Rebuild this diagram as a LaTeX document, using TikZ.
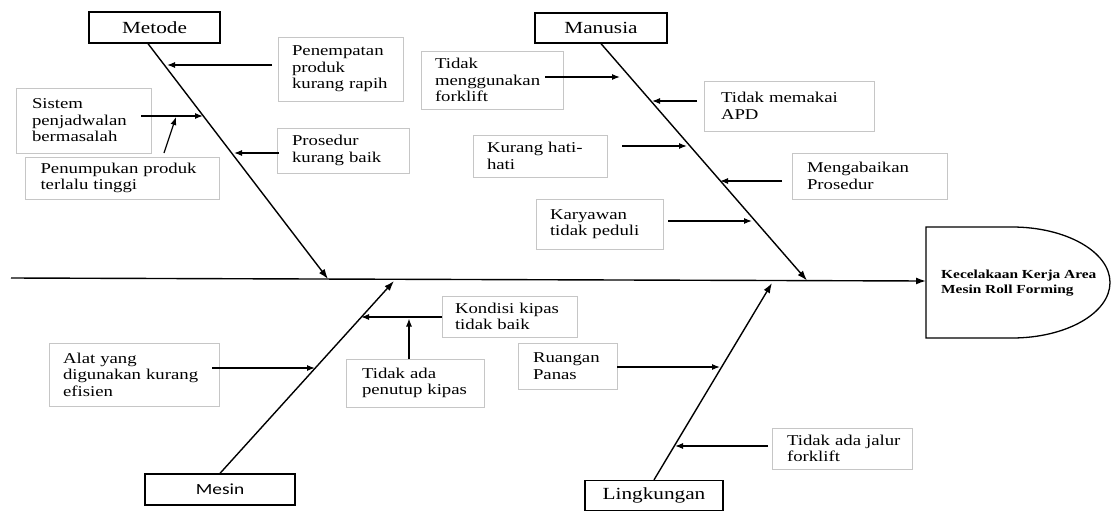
\documentclass[tikz,border=0pt]{standalone}
\usepackage{fontspec}
\setmainfont{Liberation Serif}[FakeStretch=1.25]
\newfontfamily\mesinfont{Carlito}[FakeStretch=1.25]
\usetikzlibrary{arrows.meta}
\begin{document}
\begin{tikzpicture}[x=1pt,y=-1pt,
  catbox/.style={draw=black,line width=1.3pt,inner sep=0pt,font=\fontsize{17}{20}\selectfont},
  causebox/.style={draw=gray!45,line width=0.9pt,inner ysep=0pt,align=left,font=\fontsize{15}{16.5}\selectfont},
  bone/.style={line width=1.4pt,-{Latex[length=10pt,width=7pt]}},
  cause/.style={line width=1.2pt,-{Latex[length=8pt,width=6pt]}},
  effectshape/.style={draw=black,line width=1.3pt},
]
\useasboundingbox (0,0) rectangle (1113,512);

% category boxes
\node[catbox,minimum width=131pt,minimum height=31pt] (metode) at (154.5,27.5) {Metode};
\node[catbox,minimum width=132pt,minimum height=30pt] (manusia) at (601,28) {Manusia};
\node[catbox,minimum width=150pt,minimum height=31pt,font=\mesinfont\fontsize{15.5}{18}\selectfont] (mesin) at (220,489.5) {Mesin};
\node[catbox,minimum width=138pt,minimum height=30pt] (lingkungan) at (654,495.5) {Lingkungan};

% effect
\draw[effectshape] (926,227) -- (1012,227) arc[start angle=-90,end angle=90,x radius=98,y radius=55.5] -- (926,338) -- cycle;
\coordinate (effW) at (926,281);
\node[anchor=west,align=left,inner sep=0pt,font=\bfseries\fontsize{12.3}{14.3}\selectfont] (effect) at (941,283) {Kecelakaan Kerja Area\\Mesin Roll Forming};

% spine
\coordinate (spineL) at (11,278);
\draw[bone] (spineL) -- (effW);

% bone tips
\coordinate (tipM) at (328,279);
\coordinate (tipH) at (807,280.5);
\coordinate (tipS) at (394,281);
\coordinate (tipL) at (772,283);
\draw[bone] ([xshift=-6.5pt]metode.south) -- (tipM);
\draw[bone] (manusia.south) -- (tipH);
\draw[bone] (mesin.north) -- (tipS);
\draw[bone] (lingkungan.north) -- (tipL);

% cause boxes
\node[causebox,minimum width=125pt,minimum height=64pt,inner xsep=14pt,text width=97pt] (A1) at (340.5,69) {Penempatan\\produk\\kurang~rapih};
\node[causebox,minimum width=135pt,minimum height=65pt,inner xsep=16pt,text width=103pt] (A2) at (83.5,120.5) {Sistem\\penjadwalan\\bermasalah};
\node[causebox,minimum width=194pt,minimum height=42pt,inner xsep=15.5pt,text width=163pt] (A3) at (122,178) {Penumpukan~produk\\terlalu~tinggi};
\node[causebox,minimum width=132pt,minimum height=45pt,inner xsep=15pt,text width=102pt] (A4) at (343,150.5) {Prosedur\\kurang~baik};

\node[causebox,minimum width=142pt,minimum height=58pt,inner xsep=14pt,text width=114pt] (B1) at (492,80) {Tidak\\menggunakan\\forklift};
\node[causebox,minimum width=170pt,minimum height=50pt,inner xsep=17pt,text width=136pt] (B2) at (789,106) {Tidak~memakai\\APD};
\node[causebox,minimum width=134pt,minimum height=42pt,inner xsep=14pt,text width=106pt] (B3) at (540,156) {Kurang~hati-\\hati};
\node[causebox,minimum width=155pt,minimum height=46pt,inner xsep=15pt,text width=125pt] (B4) at (869.5,176) {Mengabaikan\\Prosedur};
\node[causebox,minimum width=127pt,minimum height=50pt,inner xsep=14pt,text width=99pt] (B5) at (599.5,224) {Karyawan\\tidak~peduli};

\node[causebox,minimum width=170pt,minimum height=63pt,inner xsep=14pt,text width=142pt] (C1) at (134,374.5) {Alat~yang\\digunakan~kurang\\efisien};
\node[causebox,minimum width=135pt,minimum height=41pt,inner xsep=13pt,text width=109pt] (C2) at (509.5,316.5) {Kondisi~kipas\\tidak~baik};
\node[causebox,minimum width=138pt,minimum height=48pt,inner xsep=16pt,text width=106pt] (C3) at (415,383) {Tidak~ada\\penutup~kipas};

\node[causebox,minimum width=99pt,minimum height=46pt,inner xsep=15pt,text width=69pt] (D1) at (567.5,366) {Ruangan\\Panas};
\node[causebox,minimum width=140pt,minimum height=41pt,inner xsep=15pt,text width=110pt] (D2) at (842,448.5) {Tidak~ada~jalur\\forklift};

% arrow end points
\coordinate (m1s) at (272,65);  \coordinate (m1t) at (167,65);
\coordinate (m2s) at (141,116); \coordinate (m2t) at (203,116);
\coordinate (m3s) at (164,153); \coordinate (m3t) at (176,117);
\coordinate (m4s) at (279,153); \coordinate (m4t) at (234,153);
\coordinate (h1s) at (545,77);  \coordinate (h1t) at (620,77);
\coordinate (h2s) at (697,101); \coordinate (h2t) at (652,101);
\coordinate (h3s) at (622,146); \coordinate (h3t) at (687,146);
\coordinate (h4s) at (782,181); \coordinate (h4t) at (720,181);
\coordinate (h5s) at (668,221); \coordinate (h5t) at (752,221);
\coordinate (s1s) at (212,368); \coordinate (s1t) at (315,368);
\coordinate (s2s) at (442,317); \coordinate (s2t) at (361,317);
\coordinate (s3s) at (409,359); \coordinate (s3t) at (409,318.5);
\coordinate (l1s) at (617,367); \coordinate (l1t) at (720,367);
\coordinate (l2s) at (768,446); \coordinate (l2t) at (675,446);

\foreach \a in {m1,m2,m3,m4,h1,h2,h3,h4,h5,s1,s2,s3,l1,l2}
  \draw[cause] (\a s) -- (\a t);
\end{tikzpicture}
\end{document}
